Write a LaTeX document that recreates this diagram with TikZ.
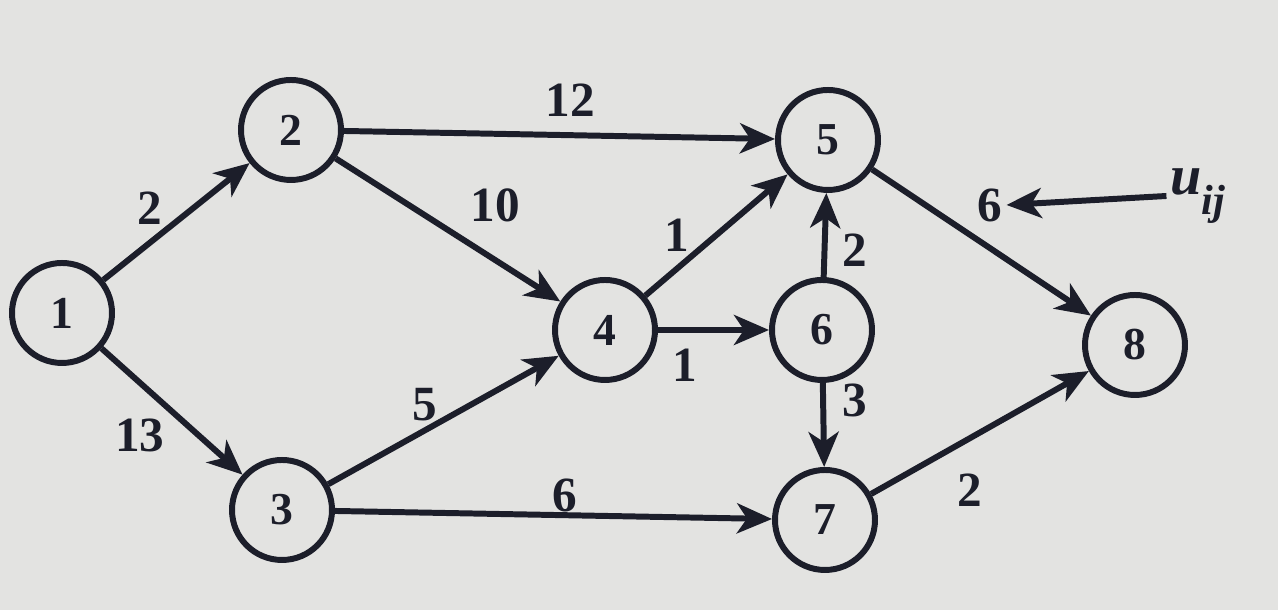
\documentclass[tikz,border=0pt]{standalone}
\usepackage{fontspec}
\setmainfont{Liberation Serif}
\usetikzlibrary{positioning,arrows.meta}
\definecolor{nwink}{HTML}{1C1E2A}
\definecolor{nwpaper}{HTML}{E3E3E1}
\tikzset{
  vtx/.style ={circle, draw=nwink, line width=1.7pt, fill=nwpaper, text=nwink,
               minimum size=10mm, inner sep=0pt, font=\fontsize{13}{14}\selectfont\bfseries},
  arc/.style ={-{Stealth[length=3.5mm,width=3mm,inset=1mm]}, line width=1.7pt, draw=nwink},
  wlbl/.style={text=nwink, inner sep=1pt, font=\fontsize{14}{15}\selectfont\bfseries}
}
\begin{document}
\begin{tikzpicture}
  \fill[nwpaper] (0,0) rectangle (12.78,6.10);
  \useasboundingbox (0,0) rectangle (12.78,6.10);
  % vertices
  \node[vtx] (v1) at (0.62,2.97) {1};
  \node[vtx] (v2) at (2.91,4.80) {2};
  \node[vtx] (v3) at (2.82,1.00) {3};
  \node[vtx] (v4) at (6.05,2.80) {4};
  \node[vtx] (v5) at (8.28,4.70) {5};
  \node[vtx] (v6) at (8.22,2.80) {6};
  \node[vtx] (v7) at (8.25,0.90) {7};
  \node[vtx] (v8) at (11.35,2.65) {8};
  % arcs
  \draw[arc] (v1)--(v2); \draw[arc] (v1)--(v3);
  \draw[arc] (v2)--(v5); \draw[arc] (v2)--(v4);
  \draw[arc] (v3)--(v4); \draw[arc] (v3)--(v7);
  \draw[arc] (v4)--(v5); \draw[arc] (v4)--(v6);
  \draw[arc] (v6)--(v5); \draw[arc] (v6)--(v7);
  \draw[arc] (v5)--(v8); \draw[arc] (v7)--(v8);
  % capacities
  \node[wlbl] (w12) at (1.50,4.02) {2};
  \node[wlbl] (w13) at (1.40,1.75) {13};
  \node[wlbl] (w25) at (5.70,5.10) {12};
  \node[wlbl] (w24) at (4.95,4.05) {10};
  \node[wlbl] (w34) at (4.25,2.05) {5};
  \node[wlbl] (w37) at (5.65,1.15) {6};
  \node[wlbl] (w45) at (6.77,3.75) {1};
  \node[wlbl] (w46) at (6.85,2.45) {1};
  \node[wlbl] (w65) at (8.55,3.60) {2};
  \node[wlbl] (w67) at (8.55,2.10) {3};
  \node[wlbl] (w58) at (9.90,4.05) {6};
  \node[wlbl] (w78) at (9.70,1.20) {2};
  % legend
  \node[wlbl,font=\fontsize{16}{17}\selectfont\bfseries\itshape] (uij) at (11.98,4.14) {u\raisebox{-0.8ex}{\fontsize{12}{12}\selectfont ij}};
  \draw[arc] (uij.west)--(w58.east);
\end{tikzpicture}
\end{document}
